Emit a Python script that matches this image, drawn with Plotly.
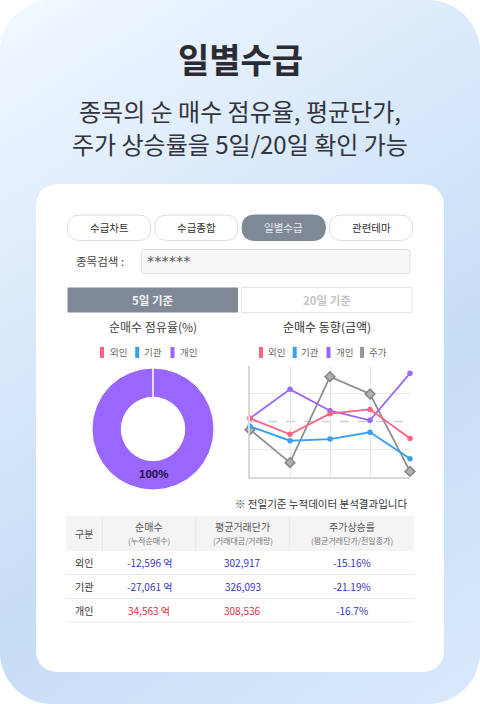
import base64
import plotly.graph_objects as go

W, H = 480, 704
FONT = "Noto Sans CJK KR"

# data
owners = ["외인", "기관", "개인"]
share = [0, 0, 100]
days = ["D-4", "D-3", "D-2", "D-1", "D-0"]
foreign_flow = [52.7, 38.3, 56.9, 60.8, 34.6]
inst_flow = [45.5, 32.5, 34.0, 40.1, 16.3]
retail_flow = [52.7, 78.9, 59.6, 50.9, 93.4]
price_line = [42.5, 12.7, 90.4, 74.7, 4.8]

table_head = ["구분", "순매수", "평균거래단가", "주가상승률"]
table_sub = ["", "(누적순매수)", "(거래대금/거래량)", "(평균거래단가/전일종가)"]
net_buy = ["-12,596 억", "-27,061 억", "34,563 억"]
avg_price = ["302,917", "326,093", "308,536"]
price_rate = ["-15.16%", "-21.19%", "-16.7%"]

nav_tabs = ["수급차트", "수급종합", "일별수급", "관련테마"]

PINK, BLUE, PURPLE, GREY = "#ff6384", "#36a2eb", "#9966ff", "#8e8e8e"
LOSS, GAIN = "#3535c2", "#e0303f"


def px(x):
    return x / W


def py(y):
    return 1 - y / H


def round_path(x0, y0, x1, y1, r):
    a, b, c, d = px(x0), px(x1), py(y0), py(y1)
    rx, ry = r / W, r / H
    return (f"M{a + rx},{c} L{b - rx},{c} Q{b},{c} {b},{c - ry} L{b},{d + ry} Q{b},{d} {b - rx},{d} "
            f"L{a + rx},{d} Q{a},{d} {a},{d + ry} L{a},{c - ry} Q{a},{c} {a + rx},{c} Z")


shapes = []
notes = []


def box(x0, y0, x1, y1, r=0, fill="white", line=None, lw=1):
    shapes.append(dict(type="path", path=round_path(x0, y0, x1, y1, max(r, 0.01)), xref="paper", yref="paper",
                       fillcolor=fill, line=dict(color=line or fill, width=lw if line else 0), layer="below"))


def hline(x0, x1, y, color, width=1, dash="solid", layer="below"):
    shapes.append(dict(type="line", xref="paper", yref="paper", x0=px(x0), x1=px(x1), y0=py(y), y1=py(y),
                       line=dict(color=color, width=width, dash=dash), layer=layer))


def vline(x, y0, y1, color, width=1, layer="below"):
    shapes.append(dict(type="line", xref="paper", yref="paper", x0=px(x), x1=px(x), y0=py(y0), y1=py(y1),
                       line=dict(color=color, width=width), layer=layer))


def label(x, y, text, size, color="#444", anchor="center", bold=False, family=FONT):
    notes.append(dict(x=px(x), y=py(y), xref="paper", yref="paper", text=f"<b>{text}</b>" if bold else text,
                      showarrow=False, xanchor=anchor, yanchor="middle",
                      font=dict(family=family, size=size, color=color)))


# background panel with the gradient
svg = (f'<svg xmlns="http://www.w3.org/2000/svg" width="{W}" height="{H}">'
       '<defs><linearGradient id="g" gradientUnits="userSpaceOnUse" x1="0" y1="0" x2="462" y2="715">'
       '<stop offset="0" stop-color="#f1f8ff"/><stop offset="0.63" stop-color="#c6ddf6"/>'
       '<stop offset="1" stop-color="#d9e9fb"/></linearGradient></defs>'
       f'<rect width="{W}" height="{H}" rx="52" fill="url(#g)"/></svg>')
bg = "data:image/svg+xml;base64," + base64.b64encode(svg.encode()).decode()

box(36, 184, 444, 672, 24)

label(240, 58.5, "일별수급", 34, "#2b2b33", bold=True)
label(240, 110, "종목의 순 매수 점유율, 평균단가,", 24, "#33333b")
label(240, 143, "주가 상승률을 5일/20일 확인 가능", 24, "#33333b")

# nav buttons
for i, t in enumerate(nav_tabs):
    x0 = 67.5 + i * 87.3
    on = i == 2
    box(x0, 215, x0 + 83.3, 240.5, 12.7, "#7f8896" if on else "white", "#dcdcdc" if not on else "#7f8896")
    label(x0 + 41.6, 227.5, t, 10.5, "#e8eaee" if on else "#333")

label(100, 261, "종목검색 :", 11.5, "#444")
box(141.5, 249.5, 410, 273.5, 3, "#f8f8f8", "#dedede")
label(144.5, 261, "******", 14.5, "#555", anchor="left", family="DejaVu Sans")

box(67.5, 287.5, 238, 312.5, 0, "#7f8896")
box(241.5, 287.5, 412, 312.5, 0, "white", "#e4e4e4")
label(153, 299.5, "5일 기준", 11.5, "#f0f1f3", bold=True)
label(327, 299.5, "20일 기준", 11.5, "#c4c4c4", bold=True)

label(153, 326, "순매수 점유율(%)", 12, "#444")
label(327, 326, "순매수 동향(금액)", 12, "#333")

# legends
for name, color, bx in zip(owners, [PINK, BLUE, PURPLE], [102, 137.2, 172.5]):
    box(bx - 2, 347, bx + 2, 358, 0, color)
    label(bx + 16, 351.5, name, 9.5, "#666")
for name, color, bx in zip(owners + ["주가"], [PINK, BLUE, PURPLE, "#999"], [261, 294.7, 328.5, 362]):
    box(bx - 2, 347, bx + 2, 358, 0, color)
    label(bx + 15.5, 351.5, name, 9.5, "#666")

# donut notch at 12 o'clock and its label
vline(153, 368, 398, "white", 1.5, layer="above")
label(153, 474, f"{share[2]}%", 11.5, "#1c1236", bold=True, family="Liberation Sans")

hline(250, 410, 421.5, "#cfcfcf", 1.5, "dash")

# note and table
label(409, 503.5, "※ 전일기준 누적데이터 분석결과입니다", 10.5, "#333", anchor="right")
box(66, 516, 414, 551, 0, "#f4f4f4")
for x in [102.3, 195.7, 289.3]:
    vline(x, 516, 551, "#e6e6e6")
col_x = [84, 149, 242.7, 351.7]
label(col_x[0], 533, table_head[0], 10, "#555")
for i in [1, 2, 3]:
    label(col_x[i], 526, table_head[i], 10, "#555")
    label(col_x[i], 540.5, table_sub[i], 8, "#777")
for r, y in enumerate([562.5, 586.5, 610]):
    hline(66, 414, y + 12, "#e8e8e8")
    label(col_x[0], y, owners[r], 10, "#333")
    for c, col in zip([1, 2, 3], [net_buy, avg_price, price_rate]):
        up = not col[r].startswith("-") and r == 2 and c != 3
        label(col_x[c], y, col[r], 10, GAIN if up else LOSS)

fig = go.Figure()
fig.add_trace(go.Pie(labels=owners, values=share, hole=0.52, sort=False, direction="clockwise", rotation=0,
                     marker=dict(colors=[PINK, BLUE, PURPLE], line=dict(color="white", width=1)),
                     textinfo="none",
                     domain=dict(x=[px(153 - 61), px(153 + 61)], y=[py(490), py(368)]), showlegend=False))

series = [("주가", price_line, GREY, "diamond", 7.5), ("개인", retail_flow, PURPLE, "circle", 5.5),
          ("기관", inst_flow, BLUE, "circle", 5.5), ("외인", foreign_flow, PINK, "circle", 5.5)]
for name, vals, color, sym, size in series:
    mk = dict(symbol=sym, size=size, color=color)
    if sym == "diamond":
        mk = dict(symbol=sym, size=size, color="#b0b0b0", line=dict(color="#858585", width=1.5))
    fig.add_trace(go.Scatter(x=days, y=vals, name=name, mode="lines+markers", cliponaxis=False,
                             line=dict(color=color, width=1.8), marker=mk, showlegend=False))

fig.update_layout(width=W, height=H, margin=dict(l=0, r=0, t=0, b=0), paper_bgcolor="white", plot_bgcolor="white",
                  shapes=shapes, annotations=notes, showlegend=False,
                  images=[dict(source=bg, xref="paper", yref="paper", x=0, y=1, sizex=1, sizey=1,
                               xanchor="left", yanchor="top", sizing="stretch", layer="below")])
fig.update_xaxes(domain=[px(250), px(410)], range=[0, 4], showgrid=True, gridcolor="#e6e6e6", gridwidth=1,
                 showticklabels=False, ticks="", showline=True, linecolor="#d8d8d8", linewidth=1.5, zeroline=False,
                 mirror=False)
fig.update_yaxes(domain=[py(476.7), py(366)], range=[0, 100], tickvals=[0, 25, 75, 100], showgrid=True,
                 gridcolor="#e6e6e6", gridwidth=1, showticklabels=False, ticks="", showline=True,
                 linecolor="#d8d8d8", linewidth=1.5, zeroline=False)

fig.write_html("out.html", config={"displayModeBar": False},
               post_script="document.body.style.margin='0';document.body.style.overflow='hidden';")
